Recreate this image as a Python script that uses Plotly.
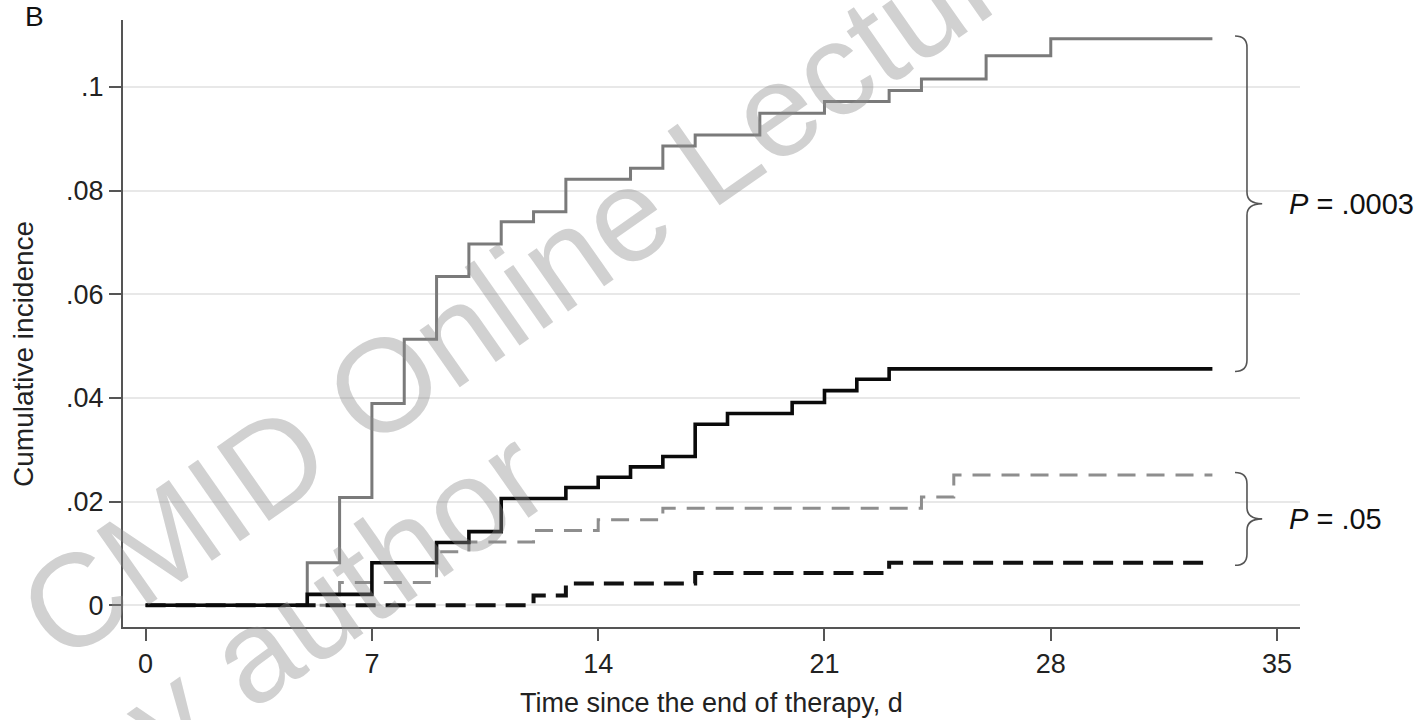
import plotly.graph_objects as go

# ---- data ----
end_day = 33

days_gray_solid = [0, 5, 6, 7, 8, 9, 10, 11, 12, 13, 15, 16, 17, 19, 21, 23, 24, 26, 28]
ci_gray_solid = [0, 0.0082, 0.0208, 0.0389, 0.0513, 0.0634, 0.0697, 0.0740, 0.0759, 0.0822,
                 0.0843, 0.0886, 0.0907, 0.0949, 0.0972, 0.0993, 0.1015, 0.1060, 0.1093]

days_black_solid = [0, 5, 7, 9, 10, 11, 13, 14, 15, 16, 17, 18, 20, 21, 22, 23]
ci_black_solid = [0, 0.0021, 0.0082, 0.0121, 0.0142, 0.0206, 0.0227, 0.0247, 0.0267, 0.0287,
                  0.0349, 0.0370, 0.0391, 0.0414, 0.0436, 0.0456]

days_gray_dash = [0, 6, 9, 10, 12, 14, 16, 24, 25]
ci_gray_dash = [0, 0.0044, 0.0103, 0.0122, 0.0144, 0.0165, 0.0187, 0.0209, 0.0251]

days_black_dash = [0, 12, 13, 17, 23]
ci_black_dash = [0, 0.0019, 0.0042, 0.0062, 0.0082]

x_ticks = [0, 7, 14, 21, 28, 35]
y_ticks = [0, 0.02, 0.04, 0.06, 0.08, 0.1]
y_ticktext = ["0", ".02", ".04", ".06", ".08", ".1"]

p_top = "<i>P</i> = .0003"
p_bottom = "<i>P</i> = .05"

FONT = "Liberation Sans, Arial, Helvetica, sans-serif"


def ext(days, vals):
    return list(days) + [end_day], list(vals) + [vals[-1]]


fig = go.Figure()

series = [
    (days_gray_dash, ci_gray_dash, dict(color="#8e8e8e", width=3, dash="18px,11px")),
    (days_black_dash, ci_black_dash, dict(color="#111111", width=4, dash="20px,10px")),
    (days_gray_solid, ci_gray_solid, dict(color="#7a7a7a", width=3)),
    (days_black_solid, ci_black_solid, dict(color="#0a0a0a", width=3.6)),
]
for d, v, ln in series:
    xs, ys = ext(d, v)
    fig.add_trace(go.Scatter(x=xs, y=ys, mode="lines", line=dict(shape="hv", **ln),
                             hoverinfo="skip", showlegend=False))


def brace_path(xv, y_top, y_bot, curl=0.37, tip=0.47, r=0.0022):
    xc = xv - curl
    xt = xv + tip
    ym = (y_top + y_bot) / 2
    return (f"M {xc},{y_top} Q {xv},{y_top} {xv},{y_top - r} "
            f"L {xv},{ym + r} Q {xv},{ym} {xt},{ym} "
            f"Q {xv},{ym} {xv},{ym - r} "
            f"L {xv},{y_bot + r} Q {xv},{y_bot} {xc},{y_bot}")


brace_x = 34.07
pad = 0.0005
upper = (ci_gray_solid[-1] + pad, ci_black_solid[-1] - pad)
lower = (ci_gray_dash[-1] + pad, ci_black_dash[-1] - pad)
for (yt, yb), label in [(upper, p_top), (lower, p_bottom)]:
    fig.add_shape(type="path", path=brace_path(brace_x, yt, yb), xref="x", yref="y",
                  line=dict(color="#555555", width=1.6))
    fig.add_annotation(x=35.3, y=(yt + yb) / 2, xref="x", yref="y", text=label,
                       showarrow=False, xanchor="left", yanchor="middle",
                       font=dict(family=FONT, size=29, color="#111111"))

# axis titles and panel letter
fig.add_annotation(x=0.5, y=-0.126, xref="paper", yref="paper",
                   text="Time since the end of therapy, d", showarrow=False,
                   xanchor="center", yanchor="middle",
                   font=dict(family=FONT, size=27, color="#222222"))
fig.add_annotation(x=-0.084, y=0.45, xref="paper", yref="paper",
                   text="Cumulative incidence", textangle=-90, showarrow=False,
                   xanchor="center", yanchor="middle",
                   font=dict(family=FONT, size=28, color="#222222"))
fig.add_annotation(x=-0.075, y=1.005, xref="paper", yref="paper", text="B",
                   showarrow=False, xanchor="center", yanchor="middle",
                   font=dict(family=FONT, size=28, color="#111111"))

# watermark
wm_font = dict(family=FONT, size=132, color="rgba(140,140,140,0.40)")
fig.add_annotation(x=(540 - 123) / 1177, y=(627 - 275) / 607, xref="paper", yref="paper",
                   text="CMID Online Lecture", textangle=-35, showarrow=False,
                   xanchor="center", yanchor="middle", font=wm_font)
fig.add_annotation(x=(305 - 123) / 1177, y=(627 - 618) / 607, xref="paper", yref="paper",
                   text="by author", textangle=-35, showarrow=False,
                   xanchor="center", yanchor="middle", font=wm_font)

fig.update_layout(
    width=1427, height=720,
    margin=dict(l=123, r=127, t=20, b=93),
    paper_bgcolor="white", plot_bgcolor="white",
    font=dict(family=FONT, size=27, color="#222222"),
    xaxis=dict(range=[-0.70, 35.71], tickvals=x_ticks, ticks="outside", ticklen=12,
               tickwidth=1.5, tickcolor="#555555", showline=True, linecolor="#555555",
               linewidth=2, showgrid=False, zeroline=False,
               tickfont=dict(family=FONT, size=27, color="#222222")),
    yaxis=dict(range=[-0.0042, 0.1129], tickvals=y_ticks, ticktext=y_ticktext,
               ticks="outside", ticklen=12, tickwidth=1.5, tickcolor="#555555",
               showline=True, linecolor="#555555", linewidth=2, showgrid=True,
               gridcolor="#e8e8e8", gridwidth=1.5, zeroline=False,
               tickfont=dict(family=FONT, size=27, color="#222222")),
)

fig.write_html("out.html", config={"displayModeBar": False},
               post_script="document.body.style.margin='0';document.body.style.overflow='hidden';")
